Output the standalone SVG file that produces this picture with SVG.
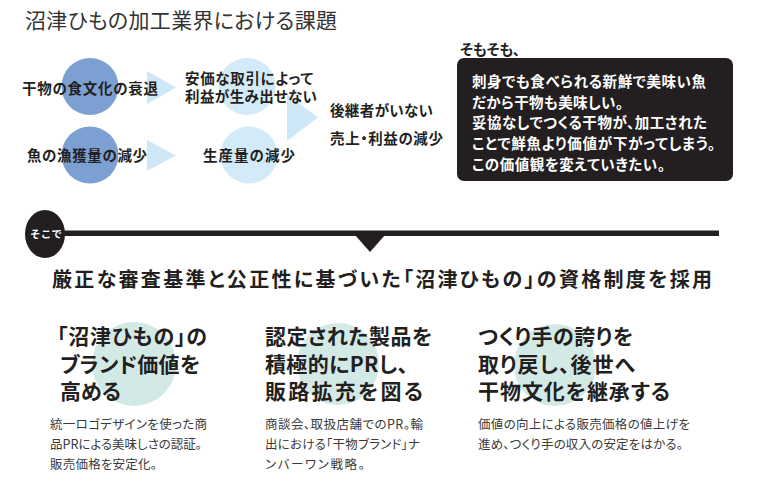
<svg xmlns="http://www.w3.org/2000/svg" width="768" height="499" viewBox="0 0 768 499">
<style>
text{font-family:"Noto Sans CJK JP","Noto Sans",sans-serif;font-feature-settings:"palt";}
.title{font-family:"Liberation Serif","Noto Sans CJK JP",serif;font-size:21px;fill:#333;}
.lbl{font-size:14.5px;font-weight:bold;fill:#231f20;}
.box{font-size:14.5px;font-weight:bold;fill:#fff;}
.h{font-size:20px;font-weight:bold;fill:#231f20;}
.ct{font-size:21px;font-weight:bold;fill:#231f20;}
.bd{font-size:12.5px;fill:#3a3a3a;}
.dk{fill:#7ba0d1;}
.lt{fill:#d3ebf8;}
.tri{fill:#cfe8f7;}
.teal{fill:#d3e9e6;}
</style>
<rect width="768" height="499" fill="#fff"/>
<text class="title" x="25" y="28" textLength="312" lengthAdjust="spacing">沼津ひもの加工業界における課題</text>

<g id="connectors">
<polygon class="tri" points="147,71 147,104 176,87.5"/>
<polygon class="tri" points="147,140 147,171 176,155.5"/>
<polygon class="tri" points="287,94 287,141 318,117.5"/>
<rect x="50" y="230.5" width="669" height="5.5" fill="#231f20"/>
<polygon points="355,235 385,235 370,252" fill="#231f20"/>
</g>

<g id="n-decline">
<circle class="dk" cx="90" cy="86.5" r="28.5"/>
<text class="lbl" x="22" y="94" textLength="136" lengthAdjust="spacing">干物の食文化の衰退</text>
</g>
<g id="n-cheap">
<circle class="lt" cx="247" cy="86.5" r="28.5"/>
<text class="lbl" x="185" y="84" textLength="128" lengthAdjust="spacing">安価な取引によって</text>
<text class="lbl" x="185" y="102" textLength="132" lengthAdjust="spacing">利益が生み出せない</text>
</g>
<g id="n-catch">
<circle class="dk" cx="90" cy="155" r="28.5"/>
<text class="lbl" x="27" y="161" textLength="120" lengthAdjust="spacing">魚の漁獲量の減少</text>
</g>
<g id="n-prod">
<circle class="lt" cx="249" cy="155" r="28.5"/>
<text class="lbl" x="203" y="161" textLength="92" lengthAdjust="spacing">生産量の減少</text>
</g>
<g id="n-result">
<text class="lbl" x="330" y="116" textLength="103" lengthAdjust="spacing">後継者がいない</text>
<text class="lbl" x="330" y="144" textLength="113" lengthAdjust="spacing">売上・利益の減少</text>
</g>

<g id="n-somosomo">
<text class="lbl" x="460" y="55" font-size="13.5" textLength="60" lengthAdjust="spacing">そもそも、</text>
<rect x="457" y="58" width="276" height="123" rx="7" fill="#231f20"/>
<text class="box" x="472" y="87" textLength="234" lengthAdjust="spacing">刺身でも食べられる新鮮で美味い魚</text>
<text class="box" x="472" y="107.5" textLength="151" lengthAdjust="spacing">だから干物も美味しい。</text>
<text class="box" x="472" y="128" textLength="235" lengthAdjust="spacing">妥協なしでつくる干物が、加工された</text>
<text class="box" x="472" y="149" textLength="243" lengthAdjust="spacing">ことで鮮魚より価値が下がってしまう。</text>
<text class="box" x="472" y="170" textLength="193" lengthAdjust="spacing">この価値観を変えていきたい。</text>
</g>

<g id="n-sokode">
<ellipse cx="45" cy="234" rx="20" ry="24" fill="#231f20"/>
<text x="46" y="237.5" font-size="10.5" font-weight="bold" fill="#fff" text-anchor="middle" textLength="31" lengthAdjust="spacing">そこで</text>
</g>

<g id="n-heading">
<text class="h" x="52" y="287" textLength="660" lengthAdjust="spacing">厳正な審査基準と公正性に基づいた「沼津ひもの」の資格制度を採用</text>
</g>

<g id="n-col1">
<circle class="teal" cx="134" cy="364" r="42"/>
<text class="ct" x="57" y="344" textLength="150" lengthAdjust="spacing">「沼津ひもの」の</text>
<text class="ct" x="60" y="372" textLength="140" lengthAdjust="spacing">ブランド価値を</text>
<text class="ct" x="60" y="399" textLength="61" lengthAdjust="spacing">高める</text>
<text class="bd" x="50" y="429" textLength="157" lengthAdjust="spacing">統一ロゴデザインを使った商</text>
<text class="bd" x="50" y="449" textLength="152" lengthAdjust="spacing">品PRによる美味しさの認証。</text>
<text class="bd" x="50" y="469" textLength="107" lengthAdjust="spacing">販売価格を安定化。</text>
</g>

<g id="n-col2">
<circle class="teal" cx="338" cy="364" r="41"/>
<text class="ct" x="265" y="344" textLength="167" lengthAdjust="spacing">認定された製品を</text>
<text class="ct" x="265" y="372" textLength="143" lengthAdjust="spacing">積極的にPRし、</text>
<text class="ct" x="265" y="399" textLength="158" lengthAdjust="spacing">販路拡充を図る</text>
<text class="bd" x="265" y="429" textLength="158" lengthAdjust="spacing">商談会、取扱店舗でのPR。輸</text>
<text class="bd" x="265" y="449" textLength="155" lengthAdjust="spacing">出における「干物ブランド」ナ</text>
<text class="bd" x="265" y="469" textLength="100" lengthAdjust="spacing">ンバーワン戦略。</text>
</g>

<g id="n-col3">
<circle class="teal" cx="555" cy="365" r="41"/>
<text class="ct" x="478" y="344" textLength="155" lengthAdjust="spacing">つくり手の誇りを</text>
<text class="ct" x="478" y="372" textLength="157" lengthAdjust="spacing">取り戻し、後世へ</text>
<text class="ct" x="478" y="399" textLength="192" lengthAdjust="spacing">干物文化を継承する</text>
<text class="bd" x="478" y="429" textLength="212" lengthAdjust="spacing">価値の向上による販売価格の値上げを</text>
<text class="bd" x="478" y="449" textLength="205" lengthAdjust="spacing">進め、つくり手の収入の安定をはかる。</text>
</g>
</svg>
